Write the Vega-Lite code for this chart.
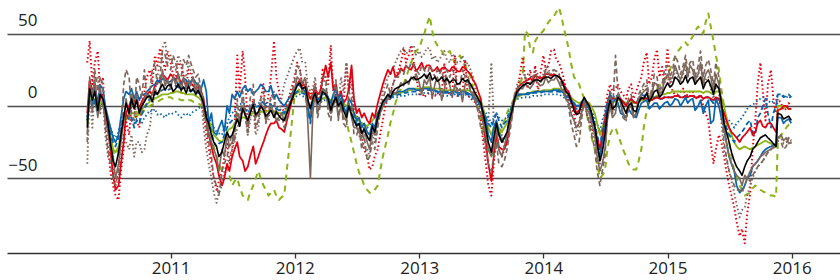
{
  "$schema": "https://vega.github.io/schema/vega-lite/v6.json",
  "autosize": "none",
  "width": 833,
  "height": 253,
  "padding": {"left": 7, "top": 0, "right": 0, "bottom": 27},
  "background": "white",
  "config": {"view": {"stroke": null}, "font": "Open Sans"},
  "data": {"values": [
    {"d":"2010-05-01","k":-15,"r":-5,"b":-8,"n":-20,"g":-10,"rd":30,"bd":-10,"nd":-25,"gd":-12,"nt":-40,"bt":-10},
    {"d":"2010-05-08","k":12,"r":18,"b":10,"n":15,"g":8,"rd":45,"bd":8,"nd":20,"gd":6,"nt":10,"bt":5},
    {"d":"2010-05-16","k":4,"r":10,"b":6,"n":8,"g":3,"rd":15,"bd":0,"nd":-5,"gd":0,"nt":-15,"bt":0},
    {"d":"2010-05-23","k":10,"r":15,"b":12,"n":18,"g":5,"rd":30,"bd":5,"nd":25,"gd":3,"nt":15,"bt":2},
    {"d":"2010-06-01","k":-3,"r":2,"b":2,"n":-8,"g":-2,"rd":38,"bd":-5,"nd":10,"gd":-5,"nt":20,"bt":-6},
    {"d":"2010-06-08","k":8,"r":5,"b":14,"n":12,"g":2,"rd":10,"bd":6,"nd":20,"gd":0,"nt":-5,"bt":0},
    {"d":"2010-06-16","k":5,"r":8,"b":12,"n":2,"g":3,"rd":20,"bd":5,"nd":15,"gd":2,"nt":5,"bt":2},
    {"d":"2010-06-23","k":-2,"r":-5,"b":0,"n":-10,"g":-4,"rd":-10,"bd":-5,"nd":-15,"gd":-6,"nt":-20,"bt":-5},
    {"d":"2010-07-01","k":-12,"r":-15,"b":-8,"n":-18,"g":-10,"rd":-30,"bd":-12,"nd":-30,"gd":-12,"nt":-35,"bt":-10},
    {"d":"2010-07-08","k":-25,"r":-30,"b":-15,"n":-28,"g":-20,"rd":-45,"bd":-20,"nd":-40,"gd":-22,"nt":-30,"bt":-15},
    {"d":"2010-07-16","k":-38,"r":-48,"b":-22,"n":-35,"g":-30,"rd":-55,"bd":-25,"nd":-50,"gd":-32,"nt":-45,"bt":-20},
    {"d":"2010-07-23","k":-42,"r":-58,"b":-25,"n":-50,"g":-32,"rd":-62,"bd":-28,"nd":-55,"gd":-34,"nt":-55,"bt":-22},
    {"d":"2010-08-01","k":-32,"r":-55,"b":-20,"n":-40,"g":-28,"rd":-65,"bd":-22,"nd":-45,"gd":-30,"nt":-50,"bt":-18},
    {"d":"2010-08-08","k":-20,"r":-40,"b":-8,"n":-25,"g":-20,"rd":-45,"bd":-15,"nd":-20,"gd":-20,"nt":-35,"bt":-10},
    {"d":"2010-08-16","k":-8,"r":-25,"b":5,"n":-10,"g":-10,"rd":-30,"bd":-5,"nd":15,"gd":-12,"nt":-20,"bt":-5},
    {"d":"2010-08-23","k":2,"r":-5,"b":10,"n":5,"g":-7,"rd":-10,"bd":-5,"nd":25,"gd":-9,"nt":-25,"bt":-6},
    {"d":"2010-09-01","k":-5,"r":0,"b":8,"n":-8,"g":-6,"rd":-20,"bd":-10,"nd":20,"gd":-8,"nt":-30,"bt":-8},
    {"d":"2010-09-08","k":5,"r":5,"b":12,"n":8,"g":-5,"rd":0,"bd":-8,"nd":-5,"gd":-7,"nt":-20,"bt":-10},
    {"d":"2010-09-16","k":-2,"r":2,"b":5,"n":0,"g":-5,"rd":5,"bd":-15,"nd":-10,"gd":-8,"nt":-35,"bt":-12},
    {"d":"2010-09-23","k":4,"r":6,"b":10,"n":8,"g":-4,"rd":-10,"bd":-10,"nd":20,"gd":-6,"nt":-25,"bt":-9},
    {"d":"2010-10-01","k":-5,"r":-2,"b":4,"n":-5,"g":-6,"rd":-15,"bd":-12,"nd":15,"gd":-8,"nt":-25,"bt":-10},
    {"d":"2010-10-08","k":0,"r":3,"b":8,"n":-2,"g":-3,"rd":0,"bd":-6,"nd":5,"gd":-5,"nt":-32,"bt":-12},
    {"d":"2010-10-16","k":3,"r":6,"b":8,"n":5,"g":0,"rd":10,"bd":-2,"nd":25,"gd":-3,"nt":-30,"bt":-8},
    {"d":"2010-10-23","k":6,"r":8,"b":10,"n":8,"g":1,"rd":20,"bd":2,"nd":5,"gd":-2,"nt":-20,"bt":-6},
    {"d":"2010-11-01","k":7,"r":10,"b":12,"n":5,"g":3,"rd":25,"bd":5,"nd":10,"gd":0,"nt":-15,"bt":-3},
    {"d":"2010-11-08","k":3,"r":8,"b":14,"n":8,"g":4,"rd":15,"bd":6,"nd":25,"gd":1,"nt":0,"bt":-4},
    {"d":"2010-11-16","k":10,"r":14,"b":15,"n":12,"g":5,"rd":35,"bd":8,"nd":30,"gd":2,"nt":10,"bt":-2},
    {"d":"2010-11-23","k":8,"r":16,"b":18,"n":8,"g":6,"rd":28,"bd":9,"nd":15,"gd":3,"nt":20,"bt":-6},
    {"d":"2010-12-01","k":12,"r":18,"b":16,"n":10,"g":7,"rd":40,"bd":10,"nd":20,"gd":4,"nt":30,"bt":-5},
    {"d":"2010-12-08","k":15,"r":22,"b":19,"n":25,"g":8,"rd":32,"bd":11,"nd":38,"gd":5,"nt":40,"bt":-7},
    {"d":"2010-12-16","k":11,"r":20,"b":18,"n":14,"g":8,"rd":25,"bd":12,"nd":35,"gd":5,"nt":45,"bt":-8},
    {"d":"2010-12-23","k":14,"r":18,"b":16,"n":18,"g":8,"rd":38,"bd":11,"nd":28,"gd":6,"nt":30,"bt":-5},
    {"d":"2011-01-01","k":15,"r":22,"b":17,"n":12,"g":9,"rd":30,"bd":12,"nd":25,"gd":6,"nt":35,"bt":-6},
    {"d":"2011-01-08","k":10,"r":20,"b":19,"n":20,"g":9,"rd":22,"bd":13,"nd":35,"gd":5,"nt":28,"bt":-5},
    {"d":"2011-01-16","k":12,"r":18,"b":18,"n":15,"g":10,"rd":20,"bd":14,"nd":30,"gd":5,"nt":25,"bt":-4},
    {"d":"2011-01-23","k":15,"r":22,"b":15,"n":22,"g":10,"rd":30,"bd":13,"nd":22,"gd":5,"nt":35,"bt":-6},
    {"d":"2011-02-01","k":11,"r":15,"b":16,"n":10,"g":9,"rd":28,"bd":12,"nd":20,"gd":4,"nt":30,"bt":-8},
    {"d":"2011-02-08","k":13,"r":18,"b":19,"n":20,"g":9,"rd":20,"bd":13,"nd":32,"gd":4,"nt":22,"bt":-6},
    {"d":"2011-02-16","k":9,"r":14,"b":18,"n":12,"g":8,"rd":15,"bd":12,"nd":28,"gd":3,"nt":20,"bt":-5},
    {"d":"2011-02-23","k":14,"r":17,"b":15,"n":18,"g":8,"rd":25,"bd":11,"nd":35,"gd":4,"nt":30,"bt":-7},
    {"d":"2011-03-01","k":10,"r":16,"b":17,"n":14,"g":8,"rd":22,"bd":10,"nd":30,"gd":4,"nt":25,"bt":-6},
    {"d":"2011-03-08","k":12,"r":14,"b":19,"n":20,"g":8,"rd":18,"bd":11,"nd":25,"gd":3,"nt":20,"bt":-4},
    {"d":"2011-03-16","k":8,"r":12,"b":16,"n":10,"g":7,"rd":12,"bd":10,"nd":20,"gd":3,"nt":15,"bt":-3},
    {"d":"2011-03-23","k":11,"r":14,"b":15,"n":16,"g":6,"rd":15,"bd":9,"nd":22,"gd":2,"nt":12,"bt":-2},
    {"d":"2011-04-01","k":6,"r":10,"b":12,"n":8,"g":4,"rd":10,"bd":8,"nd":12,"gd":0,"nt":5,"bt":0},
    {"d":"2011-04-08","k":2,"r":5,"b":18,"n":-2,"g":0,"rd":-5,"bd":2,"nd":0,"gd":-5,"nt":-15,"bt":-2},
    {"d":"2011-04-16","k":-8,"r":-10,"b":10,"n":-10,"g":-5,"rd":-20,"bd":-5,"nd":-15,"gd":-10,"nt":-30,"bt":-5},
    {"d":"2011-04-23","k":-12,"r":-20,"b":-12,"n":-18,"g":-10,"rd":-30,"bd":-12,"nd":-25,"gd":-15,"nt":-40,"bt":-8},
    {"d":"2011-05-01","k":-20,"r":-28,"b":-5,"n":-25,"g":-15,"rd":-40,"bd":-18,"nd":-35,"gd":-20,"nt":-50,"bt":-12},
    {"d":"2011-05-08","k":-25,"r":-35,"b":-18,"n":-30,"g":-20,"rd":-50,"bd":-25,"nd":-50,"gd":-28,"nt":-60,"bt":-15},
    {"d":"2011-05-16","k":-28,"r":-40,"b":-20,"n":-35,"g":-22,"rd":-58,"bd":-28,"nd":-55,"gd":-35,"nt":-67,"bt":-18},
    {"d":"2011-05-23","k":-35,"r":-48,"b":-15,"n":-45,"g":-24,"rd":-52,"bd":-26,"nd":-62,"gd":-40,"nt":-60,"bt":-19},
    {"d":"2011-06-01","k":-32,"r":-55,"b":-10,"n":-30,"g":-25,"rd":-45,"bd":-25,"nd":-45,"gd":-45,"nt":-55,"bt":-20},
    {"d":"2011-06-08","k":-25,"r":-50,"b":-18,"n":-35,"g":-22,"rd":-35,"bd":-20,"nd":-40,"gd":-44,"nt":-45,"bt":-15},
    {"d":"2011-06-16","k":-18,"r":-40,"b":0,"n":-20,"g":-18,"rd":-25,"bd":-15,"nd":-35,"gd":-42,"nt":-40,"bt":-12},
    {"d":"2011-06-23","k":-22,"r":-45,"b":-5,"n":-28,"g":-16,"rd":-40,"bd":-12,"nd":-25,"gd":-48,"nt":-35,"bt":-8},
    {"d":"2011-07-01","k":-20,"r":-35,"b":8,"n":-25,"g":-15,"rd":-30,"bd":-10,"nd":-20,"gd":-55,"nt":-30,"bt":-5},
    {"d":"2011-07-08","k":-15,"r":-30,"b":5,"n":-15,"g":-12,"rd":-15,"bd":-8,"nd":-25,"gd":-52,"nt":-25,"bt":-3},
    {"d":"2011-07-16","k":-9,"r":-25,"b":10,"n":-5,"g":-10,"rd":35,"bd":-5,"nd":5,"gd":-50,"nt":-15,"bt":0},
    {"d":"2011-07-23","k":-14,"r":-35,"b":6,"n":-10,"g":-9,"rd":10,"bd":-3,"nd":-15,"gd":-56,"nt":-10,"bt":1},
    {"d":"2011-08-01","k":-2,"r":-38,"b":12,"n":0,"g":-8,"rd":38,"bd":0,"nd":10,"gd":-62,"nt":5,"bt":2},
    {"d":"2011-08-08","k":-6,"r":-45,"b":14,"n":-5,"g":-8,"rd":20,"bd":-2,"nd":-5,"gd":-64,"nt":-5,"bt":1},
    {"d":"2011-08-16","k":-10,"r":-42,"b":10,"n":-12,"g":-8,"rd":-15,"bd":-5,"nd":-20,"gd":-65,"nt":-20,"bt":0},
    {"d":"2011-08-23","k":-5,"r":-35,"b":12,"n":-2,"g":-6,"rd":-5,"bd":-2,"nd":5,"gd":-60,"nt":-10,"bt":0},
    {"d":"2011-09-01","k":1,"r":-28,"b":8,"n":2,"g":-5,"rd":5,"bd":2,"nd":15,"gd":-55,"nt":0,"bt":0},
    {"d":"2011-09-08","k":-6,"r":-40,"b":10,"n":-8,"g":-5,"rd":-15,"bd":-1,"nd":-15,"gd":-50,"nt":-20,"bt":1},
    {"d":"2011-09-16","k":-4,"r":-35,"b":12,"n":-5,"g":-5,"rd":-10,"bd":0,"nd":-10,"gd":-45,"nt":-15,"bt":2},
    {"d":"2011-09-23","k":0,"r":-30,"b":15,"n":2,"g":-4,"rd":5,"bd":1,"nd":5,"gd":-50,"nt":0,"bt":2},
    {"d":"2011-10-01","k":-3,"r":-25,"b":13,"n":-2,"g":-4,"rd":15,"bd":2,"nd":10,"gd":-55,"nt":5,"bt":3},
    {"d":"2011-10-08","k":-7,"r":-20,"b":10,"n":-10,"g":-4,"rd":-5,"bd":0,"nd":-12,"gd":-58,"nt":-8,"bt":2},
    {"d":"2011-10-16","k":-5,"r":-15,"b":10,"n":-6,"g":-3,"rd":8,"bd":0,"nd":-5,"gd":-62,"nt":-10,"bt":2},
    {"d":"2011-10-23","k":-3,"r":-12,"b":14,"n":0,"g":-3,"rd":20,"bd":1,"nd":8,"gd":-60,"nt":5,"bt":1},
    {"d":"2011-11-01","k":-8,"r":-12,"b":5,"n":-5,"g":-4,"rd":45,"bd":-2,"nd":5,"gd":-58,"nt":10,"bt":0},
    {"d":"2011-11-08","k":-4,"r":-10,"b":8,"n":-10,"g":-4,"rd":20,"bd":-2,"nd":-8,"gd":-62,"nt":-5,"bt":-1},
    {"d":"2011-11-16","k":-7,"r":-15,"b":4,"n":-8,"g":-5,"rd":10,"bd":-3,"nd":-10,"gd":-65,"nt":-5,"bt":-2},
    {"d":"2011-11-23","k":-9,"r":-16,"b":2,"n":-5,"g":-5,"rd":0,"bd":-4,"nd":-5,"gd":-63,"nt":5,"bt":-3},
    {"d":"2011-12-01","k":-10,"r":-18,"b":0,"n":-10,"g":-6,"rd":-5,"bd":-5,"nd":-15,"gd":-62,"nt":15,"bt":-4},
    {"d":"2012-01-01","k":10,"r":12,"b":12,"n":12,"g":8,"rd":20,"bd":8,"nd":18,"gd":8,"nt":35,"bt":6},
    {"d":"2012-01-08","k":14,"r":15,"b":15,"n":20,"g":9,"rd":30,"bd":10,"nd":28,"gd":10,"nt":38,"bt":7},
    {"d":"2012-01-16","k":16,"r":18,"b":14,"n":18,"g":10,"rd":25,"bd":10,"nd":25,"gd":12,"nt":40,"bt":8},
    {"d":"2012-01-23","k":12,"r":14,"b":12,"n":10,"g":10,"rd":15,"bd":9,"nd":15,"gd":11,"nt":30,"bt":7},
    {"d":"2012-02-01","k":13,"r":15,"b":10,"n":15,"g":9,"rd":18,"bd":8,"nd":20,"gd":10,"nt":30,"bt":6},
    {"d":"2012-02-08","k":5,"r":10,"b":0,"n":-10,"g":7,"rd":8,"bd":-3,"nd":5,"gd":9,"nt":15,"bt":3},
    {"d":"2012-02-16","k":-2,"r":5,"b":-10,"n":-50,"g":5,"rd":10,"bd":-12,"nd":-5,"gd":8,"nt":10,"bt":0},
    {"d":"2012-02-23","k":5,"r":8,"b":2,"n":-5,"g":5,"rd":5,"bd":0,"nd":10,"gd":7,"nt":12,"bt":2},
    {"d":"2012-03-01","k":9,"r":12,"b":8,"n":10,"g":6,"rd":15,"bd":6,"nd":15,"gd":6,"nt":20,"bt":4},
    {"d":"2012-03-08","k":2,"r":8,"b":4,"n":-5,"g":5,"rd":5,"bd":1,"nd":-8,"gd":5,"nt":0,"bt":2},
    {"d":"2012-03-16","k":4,"r":10,"b":6,"n":2,"g":5,"rd":10,"bd":2,"nd":0,"gd":4,"nt":5,"bt":2},
    {"d":"2012-03-23","k":10,"r":18,"b":12,"n":12,"g":5,"rd":25,"bd":8,"nd":20,"gd":5,"nt":20,"bt":4},
    {"d":"2012-04-01","k":8,"r":28,"b":10,"n":10,"g":6,"rd":20,"bd":8,"nd":20,"gd":6,"nt":15,"bt":4},
    {"d":"2012-04-08","k":5,"r":20,"b":6,"n":0,"g":5,"rd":15,"bd":4,"nd":-5,"gd":5,"nt":5,"bt":3},
    {"d":"2012-04-16","k":-3,"r":30,"b":2,"n":-5,"g":4,"rd":42,"bd":0,"nd":-10,"gd":5,"nt":-5,"bt":2},
    {"d":"2012-04-23","k":2,"r":12,"b":8,"n":0,"g":4,"rd":10,"bd":4,"nd":5,"gd":4,"nt":0,"bt":3},
    {"d":"2012-05-01","k":6,"r":15,"b":12,"n":5,"g":4,"rd":15,"bd":8,"nd":18,"gd":4,"nt":10,"bt":4},
    {"d":"2012-05-08","k":0,"r":5,"b":5,"n":-8,"g":3,"rd":5,"bd":2,"nd":-10,"gd":3,"nt":0,"bt":3},
    {"d":"2012-05-16","k":3,"r":10,"b":8,"n":0,"g":3,"rd":10,"bd":5,"nd":5,"gd":2,"nt":20,"bt":2},
    {"d":"2012-05-23","k":-3,"r":2,"b":0,"n":-8,"g":2,"rd":0,"bd":-2,"nd":-12,"gd":-3,"nt":10,"bt":1},
    {"d":"2012-06-01","k":-8,"r":5,"b":-5,"n":-10,"g":0,"rd":30,"bd":-5,"nd":-15,"gd":-10,"nt":30,"bt":0},
    {"d":"2012-06-08","k":0,"r":12,"b":5,"n":2,"g":-1,"rd":10,"bd":2,"nd":10,"gd":-18,"nt":10,"bt":-1},
    {"d":"2012-06-16","k":-6,"r":28,"b":2,"n":-8,"g":-2,"rd":25,"bd":-2,"nd":5,"gd":-25,"nt":15,"bt":-2},
    {"d":"2012-06-23","k":-10,"r":5,"b":-5,"n":-15,"g":-5,"rd":0,"bd":-8,"nd":-20,"gd":-32,"nt":-5,"bt":-5},
    {"d":"2012-07-01","k":-14,"r":-5,"b":-10,"n":-15,"g":-8,"rd":-5,"bd":-12,"nd":-20,"gd":-40,"nt":-15,"bt":-8},
    {"d":"2012-07-08","k":-12,"r":-2,"b":-8,"n":-18,"g":-10,"rd":-15,"bd":-14,"nd":-15,"gd":-46,"nt":-20,"bt":-10},
    {"d":"2012-07-16","k":-19,"r":-8,"b":-15,"n":-22,"g":-12,"rd":-20,"bd":-18,"nd":-30,"gd":-50,"nt":-25,"bt":-12},
    {"d":"2012-07-23","k":-16,"r":-5,"b":-12,"n":-15,"g":-13,"rd":-30,"bd":-15,"nd":-20,"gd":-55,"nt":-28,"bt":-13},
    {"d":"2012-08-01","k":-21,"r":-10,"b":-18,"n":-25,"g":-14,"rd":-35,"bd":-22,"nd":-38,"gd":-58,"nt":-30,"bt":-15},
    {"d":"2012-08-08","k":-24,"r":-12,"b":-20,"n":-30,"g":-12,"rd":-44,"bd":-24,"nd":-35,"gd":-60,"nt":-35,"bt":-13},
    {"d":"2012-08-16","k":-14,"r":-5,"b":-12,"n":-18,"g":-10,"rd":-42,"bd":-15,"nd":-25,"gd":-60,"nt":-20,"bt":-10},
    {"d":"2012-08-23","k":-18,"r":-8,"b":-15,"n":-20,"g":-8,"rd":-35,"bd":-18,"nd":-30,"gd":-58,"nt":-25,"bt":-8},
    {"d":"2012-09-01","k":-8,"r":2,"b":-5,"n":-10,"g":-5,"rd":-30,"bd":-10,"nd":-15,"gd":-55,"nt":-10,"bt":-5},
    {"d":"2012-09-08","k":-2,"r":8,"b":-2,"n":-5,"g":-2,"rd":-20,"bd":-5,"nd":-5,"gd":-45,"nt":0,"bt":-2},
    {"d":"2012-09-16","k":3,"r":15,"b":2,"n":0,"g":2,"rd":-10,"bd":0,"nd":5,"gd":-35,"nt":10,"bt":0},
    {"d":"2012-09-23","k":5,"r":20,"b":5,"n":3,"g":4,"rd":0,"bd":3,"nd":10,"gd":-28,"nt":15,"bt":2},
    {"d":"2012-10-01","k":8,"r":25,"b":8,"n":5,"g":6,"rd":5,"bd":5,"nd":15,"gd":-20,"nt":20,"bt":4},
    {"d":"2012-10-08","k":6,"r":22,"b":6,"n":10,"g":7,"rd":10,"bd":5,"nd":8,"gd":-12,"nt":22,"bt":5},
    {"d":"2012-10-16","k":10,"r":27,"b":8,"n":10,"g":8,"rd":15,"bd":7,"nd":15,"gd":-5,"nt":25,"bt":6},
    {"d":"2012-10-23","k":12,"r":20,"b":9,"n":8,"g":8,"rd":20,"bd":7,"nd":20,"gd":2,"nt":30,"bt":6},
    {"d":"2012-11-01","k":13,"r":22,"b":10,"n":12,"g":9,"rd":25,"bd":8,"nd":20,"gd":8,"nt":35,"bt":6},
    {"d":"2012-11-08","k":14,"r":26,"b":10,"n":16,"g":9,"rd":30,"bd":8,"nd":25,"gd":12,"nt":38,"bt":7},
    {"d":"2012-11-16","k":15,"r":24,"b":10,"n":14,"g":10,"rd":40,"bd":9,"nd":22,"gd":15,"nt":40,"bt":7},
    {"d":"2012-11-23","k":16,"r":28,"b":11,"n":18,"g":10,"rd":30,"bd":9,"nd":28,"gd":20,"nt":36,"bt":7},
    {"d":"2012-12-01","k":17,"r":26,"b":12,"n":15,"g":11,"rd":35,"bd":10,"nd":25,"gd":25,"nt":38,"bt":8},
    {"d":"2012-12-08","k":19,"r":25,"b":12,"n":20,"g":11,"rd":42,"bd":10,"nd":30,"gd":30,"nt":40,"bt":8},
    {"d":"2012-12-16","k":20,"r":29,"b":12,"n":18,"g":12,"rd":30,"bd":10,"nd":28,"gd":35,"nt":42,"bt":8},
    {"d":"2012-12-23","k":18,"r":24,"b":11,"n":22,"g":12,"rd":20,"bd":10,"nd":25,"gd":38,"nt":35,"bt":8},
    {"d":"2013-01-01","k":19,"r":27,"b":11,"n":16,"g":12,"rd":8,"bd":10,"nd":22,"gd":40,"nt":38,"bt":8},
    {"d":"2013-01-08","k":20,"r":30,"b":12,"n":8,"g":12,"rd":10,"bd":11,"nd":28,"gd":45,"nt":34,"bt":8},
    {"d":"2013-01-16","k":22,"r":25,"b":12,"n":18,"g":13,"rd":6,"bd":11,"nd":25,"gd":50,"nt":36,"bt":9},
    {"d":"2013-01-23","k":19,"r":28,"b":12,"n":15,"g":13,"rd":8,"bd":11,"nd":20,"gd":56,"nt":40,"bt":9},
    {"d":"2013-02-01","k":23,"r":28,"b":12,"n":20,"g":13,"rd":9,"bd":11,"nd":28,"gd":62,"nt":40,"bt":9},
    {"d":"2013-02-08","k":18,"r":24,"b":11,"n":5,"g":12,"rd":8,"bd":10,"nd":25,"gd":52,"nt":32,"bt":8},
    {"d":"2013-02-16","k":20,"r":25,"b":11,"n":15,"g":12,"rd":7,"bd":10,"nd":20,"gd":45,"nt":35,"bt":8},
    {"d":"2013-02-23","k":17,"r":27,"b":10,"n":20,"g":12,"rd":9,"bd":10,"nd":25,"gd":42,"nt":30,"bt":8},
    {"d":"2013-03-01","k":18,"r":24,"b":10,"n":15,"g":12,"rd":8,"bd":9,"nd":22,"gd":40,"nt":32,"bt":8},
    {"d":"2013-03-08","k":20,"r":26,"b":10,"n":4,"g":11,"rd":10,"bd":9,"nd":25,"gd":38,"nt":35,"bt":7},
    {"d":"2013-03-16","k":17,"r":27,"b":10,"n":12,"g":11,"rd":30,"bd":9,"nd":15,"gd":35,"nt":38,"bt":7},
    {"d":"2013-03-23","k":19,"r":25,"b":10,"n":20,"g":11,"rd":8,"bd":9,"nd":25,"gd":37,"nt":32,"bt":7},
    {"d":"2013-04-01","k":16,"r":24,"b":9,"n":14,"g":11,"rd":10,"bd":8,"nd":20,"gd":38,"nt":30,"bt":7},
    {"d":"2013-04-08","k":18,"r":27,"b":10,"n":6,"g":11,"rd":9,"bd":9,"nd":25,"gd":33,"nt":36,"bt":8},
    {"d":"2013-04-16","k":18,"r":26,"b":10,"n":15,"g":11,"rd":35,"bd":9,"nd":22,"gd":30,"nt":34,"bt":8},
    {"d":"2013-04-23","k":15,"r":24,"b":9,"n":10,"g":11,"rd":7,"bd":8,"nd":15,"gd":33,"nt":30,"bt":7},
    {"d":"2013-05-01","k":16,"r":24,"b":9,"n":12,"g":11,"rd":8,"bd":8,"nd":15,"gd":35,"nt":30,"bt":7},
    {"d":"2013-05-08","k":19,"r":27,"b":10,"n":3,"g":11,"rd":9,"bd":9,"nd":25,"gd":30,"nt":35,"bt":8},
    {"d":"2013-05-16","k":17,"r":26,"b":10,"n":15,"g":11,"rd":32,"bd":9,"nd":20,"gd":28,"nt":28,"bt":8},
    {"d":"2013-05-23","k":18,"r":24,"b":9,"n":18,"g":11,"rd":8,"bd":8,"nd":22,"gd":25,"nt":30,"bt":7},
    {"d":"2013-06-01","k":15,"r":22,"b":8,"n":10,"g":10,"rd":5,"bd":7,"nd":12,"gd":20,"nt":25,"bt":6},
    {"d":"2013-06-08","k":12,"r":18,"b":7,"n":8,"g":9,"rd":4,"bd":6,"nd":10,"gd":12,"nt":20,"bt":5},
    {"d":"2013-06-16","k":8,"r":15,"b":5,"n":2,"g":8,"rd":2,"bd":5,"nd":5,"gd":5,"nt":10,"bt":4},
    {"d":"2013-06-23","k":5,"r":10,"b":3,"n":-2,"g":6,"rd":0,"bd":3,"nd":-5,"gd":-2,"nt":5,"bt":2},
    {"d":"2013-07-01","k":2,"r":5,"b":0,"n":-5,"g":4,"rd":-10,"bd":0,"nd":-15,"gd":-10,"nt":-5,"bt":0},
    {"d":"2013-07-08","k":-5,"r":-10,"b":-5,"n":-12,"g":-2,"rd":-25,"bd":-4,"nd":-20,"gd":-18,"nt":-15,"bt":-3},
    {"d":"2013-07-16","k":-15,"r":-25,"b":-10,"n":-20,"g":-8,"rd":-40,"bd":-8,"nd":-30,"gd":-25,"nt":-25,"bt":-5},
    {"d":"2013-07-23","k":-25,"r":-40,"b":-20,"n":-30,"g":-15,"rd":-55,"bd":-12,"nd":-40,"gd":-30,"nt":-10,"bt":-8},
    {"d":"2013-08-01","k":-32,"r":-52,"b":-25,"n":-35,"g":-20,"rd":-62,"bd":-15,"nd":-45,"gd":-35,"nt":30,"bt":-12},
    {"d":"2013-08-08","k":-22,"r":-35,"b":-15,"n":-28,"g":-15,"rd":-40,"bd":-10,"nd":-35,"gd":-32,"nt":-10,"bt":-8},
    {"d":"2013-08-16","k":-12,"r":-20,"b":-10,"n":-15,"g":-12,"rd":-20,"bd":-5,"nd":-25,"gd":-28,"nt":-30,"bt":-5},
    {"d":"2013-08-23","k":-20,"r":-28,"b":-18,"n":-30,"g":-15,"rd":-30,"bd":-10,"nd":-40,"gd":-22,"nt":-25,"bt":-8},
    {"d":"2013-09-01","k":-25,"r":-30,"b":-25,"n":-35,"g":-18,"rd":-35,"bd":-15,"nd":-42,"gd":-15,"nt":-20,"bt":-10},
    {"d":"2013-09-08","k":-22,"r":-30,"b":-22,"n":-28,"g":-15,"rd":-30,"bd":-12,"nd":-38,"gd":-10,"nt":-28,"bt":-9},
    {"d":"2013-09-16","k":-18,"r":-25,"b":-20,"n":-20,"g":-12,"rd":-25,"bd":-10,"nd":-30,"gd":-5,"nt":-25,"bt":-8},
    {"d":"2013-09-23","k":-10,"r":-15,"b":-10,"n":-12,"g":-6,"rd":-10,"bd":-5,"nd":-20,"gd":-1,"nt":-15,"bt":-4},
    {"d":"2013-10-01","k":-3,"r":-5,"b":-2,"n":-5,"g":0,"rd":0,"bd":0,"nd":-8,"gd":2,"nt":-5,"bt":0},
    {"d":"2013-10-08","k":5,"r":6,"b":4,"n":5,"g":3,"rd":5,"bd":4,"nd":8,"gd":6,"nt":5,"bt":3},
    {"d":"2013-10-16","k":10,"r":12,"b":8,"n":8,"g":6,"rd":10,"bd":7,"nd":12,"gd":10,"nt":15,"bt":5},
    {"d":"2013-10-23","k":12,"r":14,"b":8,"n":12,"g":7,"rd":20,"bd":8,"nd":15,"gd":15,"nt":18,"bt":5},
    {"d":"2013-11-01","k":14,"r":16,"b":8,"n":12,"g":8,"rd":34,"bd":8,"nd":15,"gd":20,"nt":20,"bt":6},
    {"d":"2013-11-08","k":15,"r":17,"b":8,"n":15,"g":8,"rd":20,"bd":8,"nd":20,"gd":52,"nt":22,"bt":6},
    {"d":"2013-11-16","k":16,"r":18,"b":9,"n":14,"g":9,"rd":12,"bd":8,"nd":18,"gd":50,"nt":22,"bt":6},
    {"d":"2013-11-23","k":15,"r":19,"b":9,"n":12,"g":9,"rd":25,"bd":8,"nd":15,"gd":40,"nt":20,"bt":6},
    {"d":"2013-12-01","k":17,"r":18,"b":9,"n":15,"g":10,"rd":15,"bd":9,"nd":20,"gd":37,"nt":20,"bt":7},
    {"d":"2013-12-08","k":18,"r":21,"b":10,"n":18,"g":10,"rd":28,"bd":9,"nd":22,"gd":45,"nt":24,"bt":7},
    {"d":"2013-12-16","k":18,"r":20,"b":10,"n":16,"g":10,"rd":10,"bd":9,"nd":18,"gd":48,"nt":22,"bt":7},
    {"d":"2013-12-23","k":17,"r":19,"b":10,"n":14,"g":10,"rd":22,"bd":9,"nd":16,"gd":50,"nt":20,"bt":7},
    {"d":"2014-01-01","k":19,"r":20,"b":10,"n":15,"g":11,"rd":35,"bd":10,"nd":20,"gd":52,"nt":22,"bt":8},
    {"d":"2014-01-08","k":20,"r":22,"b":10,"n":20,"g":11,"rd":25,"bd":10,"nd":25,"gd":55,"nt":28,"bt":8},
    {"d":"2014-01-16","k":20,"r":22,"b":10,"n":16,"g":11,"rd":28,"bd":10,"nd":22,"gd":58,"nt":25,"bt":8},
    {"d":"2014-01-23","k":19,"r":21,"b":10,"n":18,"g":11,"rd":38,"bd":10,"nd":24,"gd":60,"nt":22,"bt":8},
    {"d":"2014-02-01","k":21,"r":22,"b":11,"n":18,"g":12,"rd":39,"bd":10,"nd":25,"gd":62,"nt":25,"bt":8},
    {"d":"2014-02-08","k":21,"r":21,"b":11,"n":20,"g":12,"rd":32,"bd":10,"nd":24,"gd":65,"nt":24,"bt":8},
    {"d":"2014-02-16","k":20,"r":20,"b":11,"n":16,"g":12,"rd":30,"bd":10,"nd":22,"gd":68,"nt":22,"bt":8},
    {"d":"2014-02-23","k":18,"r":18,"b":10,"n":12,"g":11,"rd":25,"bd":9,"nd":15,"gd":62,"nt":18,"bt":7},
    {"d":"2014-03-01","k":14,"r":16,"b":9,"n":10,"g":10,"rd":20,"bd":8,"nd":12,"gd":55,"nt":15,"bt":6},
    {"d":"2014-03-08","k":10,"r":12,"b":7,"n":5,"g":9,"rd":12,"bd":6,"nd":5,"gd":48,"nt":8,"bt":5},
    {"d":"2014-03-16","k":8,"r":10,"b":6,"n":2,"g":8,"rd":5,"bd":5,"nd":0,"gd":40,"nt":5,"bt":4},
    {"d":"2014-03-23","k":4,"r":5,"b":4,"n":-5,"g":6,"rd":0,"bd":3,"nd":-12,"gd":30,"nt":-5,"bt":3},
    {"d":"2014-04-01","k":-3,"r":0,"b":2,"n":-10,"g":4,"rd":-5,"bd":0,"nd":-20,"gd":20,"nt":-10,"bt":2},
    {"d":"2014-04-08","k":-6,"r":-5,"b":0,"n":-15,"g":3,"rd":-15,"bd":-2,"nd":-28,"gd":18,"nt":-20,"bt":1},
    {"d":"2014-04-16","k":-5,"r":-3,"b":0,"n":-12,"g":2,"rd":-12,"bd":-2,"nd":-25,"gd":15,"nt":-15,"bt":0},
    {"d":"2014-04-23","k":2,"r":0,"b":2,"n":-5,"g":3,"rd":-3,"bd":2,"nd":-10,"gd":10,"nt":-5,"bt":2},
    {"d":"2014-05-01","k":6,"r":5,"b":4,"n":2,"g":4,"rd":5,"bd":4,"nd":5,"gd":5,"nt":5,"bt":3},
    {"d":"2014-05-08","k":3,"r":2,"b":0,"n":-2,"g":3,"rd":-5,"bd":1,"nd":-5,"gd":-5,"nt":-3,"bt":2},
    {"d":"2014-05-16","k":0,"r":-2,"b":-2,"n":-5,"g":2,"rd":-10,"bd":-2,"nd":-12,"gd":-15,"nt":-10,"bt":0},
    {"d":"2014-05-23","k":-5,"r":-8,"b":-8,"n":-12,"g":-1,"rd":-15,"bd":-6,"nd":-20,"gd":-22,"nt":-18,"bt":-4},
    {"d":"2014-06-01","k":-14,"r":-15,"b":-15,"n":-20,"g":-5,"rd":-20,"bd":-12,"nd":-30,"gd":-30,"nt":-25,"bt":-8},
    {"d":"2014-06-08","k":-25,"r":-22,"b":-28,"n":-35,"g":-12,"rd":-25,"bd":-20,"nd":-45,"gd":-40,"nt":-32,"bt":-12},
    {"d":"2014-06-16","k":-38,"r":-30,"b":-35,"n":-45,"g":-20,"rd":-30,"bd":-28,"nd":-55,"gd":-50,"nt":-40,"bt":-18},
    {"d":"2014-06-23","k":-32,"r":-22,"b":-25,"n":-40,"g":-15,"rd":-20,"bd":-18,"nd":-45,"gd":-48,"nt":-30,"bt":-10},
    {"d":"2014-07-01","k":-20,"r":-10,"b":-15,"n":-30,"g":-10,"rd":-5,"bd":-10,"nd":-35,"gd":-45,"nt":-20,"bt":-5},
    {"d":"2014-07-08","k":-5,"r":0,"b":0,"n":-10,"g":-2,"rd":8,"bd":2,"nd":-8,"gd":-30,"nt":-5,"bt":2},
    {"d":"2014-07-16","k":4,"r":8,"b":8,"n":0,"g":4,"rd":15,"bd":10,"nd":10,"gd":-20,"nt":5,"bt":6},
    {"d":"2014-07-23","k":-2,"r":5,"b":2,"n":-8,"g":3,"rd":10,"bd":5,"nd":-5,"gd":-16,"nt":-5,"bt":5},
    {"d":"2014-08-01","k":0,"r":5,"b":5,"n":-5,"g":3,"rd":12,"bd":8,"nd":35,"gd":-15,"nt":0,"bt":5},
    {"d":"2014-08-08","k":6,"r":6,"b":2,"n":8,"g":4,"rd":15,"bd":6,"nd":10,"gd":-20,"nt":8,"bt":5},
    {"d":"2014-08-16","k":4,"r":5,"b":-5,"n":2,"g":4,"rd":10,"bd":5,"nd":5,"gd":-25,"nt":5,"bt":4},
    {"d":"2014-08-23","k":0,"r":3,"b":-6,"n":-5,"g":3,"rd":8,"bd":3,"nd":-8,"gd":-30,"nt":-5,"bt":3},
    {"d":"2014-09-01","k":-5,"r":0,"b":-8,"n":-8,"g":2,"rd":5,"bd":0,"nd":-10,"gd":-35,"nt":-10,"bt":2},
    {"d":"2014-09-08","k":0,"r":3,"b":-2,"n":-2,"g":3,"rd":12,"bd":3,"nd":5,"gd":-40,"nt":0,"bt":3},
    {"d":"2014-09-16","k":2,"r":5,"b":-5,"n":0,"g":3,"rd":15,"bd":5,"nd":8,"gd":-42,"nt":5,"bt":4},
    {"d":"2014-09-23","k":-3,"r":3,"b":-7,"n":-8,"g":2,"rd":5,"bd":3,"nd":-8,"gd":-44,"nt":-5,"bt":3},
    {"d":"2014-10-01","k":-4,"r":2,"b":-8,"n":-5,"g":2,"rd":10,"bd":2,"nd":-5,"gd":-44,"nt":-5,"bt":2},
    {"d":"2014-10-08","k":2,"r":4,"b":-3,"n":5,"g":3,"rd":15,"bd":5,"nd":8,"gd":-38,"nt":5,"bt":4},
    {"d":"2014-10-16","k":6,"r":5,"b":2,"n":8,"g":4,"rd":20,"bd":8,"nd":12,"gd":-30,"nt":10,"bt":5},
    {"d":"2014-10-23","k":5,"r":5,"b":3,"n":10,"g":4,"rd":30,"bd":7,"nd":15,"gd":-15,"nt":12,"bt":5},
    {"d":"2014-11-01","k":9,"r":5,"b":4,"n":12,"g":5,"rd":37,"bd":8,"nd":18,"gd":-3,"nt":15,"bt":6},
    {"d":"2014-11-08","k":3,"r":4,"b":-2,"n":2,"g":5,"rd":15,"bd":5,"nd":5,"gd":3,"nt":5,"bt":5},
    {"d":"2014-11-16","k":6,"r":4,"b":0,"n":8,"g":5,"rd":20,"bd":6,"nd":12,"gd":8,"nt":10,"bt":5},
    {"d":"2014-11-23","k":10,"r":5,"b":2,"n":16,"g":6,"rd":32,"bd":6,"nd":22,"gd":10,"nt":15,"bt":5},
    {"d":"2014-12-01","k":11,"r":6,"b":2,"n":15,"g":7,"rd":39,"bd":6,"nd":20,"gd":12,"nt":15,"bt":6},
    {"d":"2014-12-08","k":6,"r":5,"b":-2,"n":8,"g":7,"rd":20,"bd":5,"nd":10,"gd":14,"nt":8,"bt":5},
    {"d":"2014-12-16","k":8,"r":5,"b":0,"n":10,"g":8,"rd":27,"bd":5,"nd":15,"gd":16,"nt":12,"bt":5},
    {"d":"2014-12-23","k":12,"r":6,"b":2,"n":18,"g":8,"rd":15,"bd":6,"nd":25,"gd":18,"nt":18,"bt":6},
    {"d":"2015-01-01","k":16,"r":6,"b":3,"n":22,"g":9,"rd":40,"bd":6,"nd":28,"gd":20,"nt":20,"bt":6},
    {"d":"2015-01-08","k":13,"r":6,"b":0,"n":18,"g":9,"rd":18,"bd":6,"nd":20,"gd":25,"nt":15,"bt":6},
    {"d":"2015-01-16","k":15,"r":6,"b":2,"n":20,"g":10,"rd":10,"bd":6,"nd":25,"gd":30,"nt":18,"bt":6},
    {"d":"2015-01-23","k":20,"r":7,"b":5,"n":28,"g":10,"rd":8,"bd":7,"nd":35,"gd":34,"nt":25,"bt":7},
    {"d":"2015-02-01","k":18,"r":7,"b":4,"n":22,"g":10,"rd":8,"bd":7,"nd":30,"gd":38,"nt":20,"bt":7},
    {"d":"2015-02-08","k":15,"r":6,"b":0,"n":18,"g":10,"rd":10,"bd":6,"nd":22,"gd":40,"nt":16,"bt":6},
    {"d":"2015-02-16","k":17,"r":6,"b":3,"n":24,"g":10,"rd":12,"bd":6,"nd":28,"gd":43,"nt":22,"bt":6},
    {"d":"2015-02-23","k":21,"r":7,"b":6,"n":30,"g":10,"rd":6,"bd":7,"nd":35,"gd":44,"nt":26,"bt":7},
    {"d":"2015-03-01","k":16,"r":6,"b":2,"n":20,"g":10,"rd":8,"bd":6,"nd":25,"gd":42,"nt":20,"bt":6},
    {"d":"2015-03-08","k":19,"r":7,"b":4,"n":28,"g":10,"rd":10,"bd":7,"nd":30,"gd":45,"nt":24,"bt":7},
    {"d":"2015-03-16","k":20,"r":7,"b":5,"n":25,"g":10,"rd":10,"bd":7,"nd":32,"gd":48,"nt":25,"bt":7},
    {"d":"2015-03-23","k":15,"r":6,"b":-3,"n":18,"g":10,"rd":5,"bd":6,"nd":20,"gd":52,"nt":16,"bt":6},
    {"d":"2015-04-01","k":18,"r":6,"b":0,"n":22,"g":10,"rd":6,"bd":6,"nd":28,"gd":55,"nt":22,"bt":6},
    {"d":"2015-04-08","k":20,"r":7,"b":4,"n":30,"g":10,"rd":8,"bd":7,"nd":38,"gd":52,"nt":28,"bt":7},
    {"d":"2015-04-16","k":12,"r":5,"b":-5,"n":15,"g":9,"rd":0,"bd":5,"nd":20,"gd":50,"nt":15,"bt":5},
    {"d":"2015-04-23","k":16,"r":6,"b":0,"n":22,"g":10,"rd":-5,"bd":6,"nd":28,"gd":58,"nt":18,"bt":6},
    {"d":"2015-05-01","k":18,"r":6,"b":4,"n":25,"g":10,"rd":-10,"bd":6,"nd":32,"gd":64,"nt":20,"bt":6},
    {"d":"2015-05-08","k":14,"r":5,"b":-12,"n":20,"g":9,"rd":-25,"bd":4,"nd":25,"gd":55,"nt":12,"bt":4},
    {"d":"2015-05-16","k":8,"r":4,"b":-10,"n":10,"g":8,"rd":-40,"bd":2,"nd":15,"gd":45,"nt":5,"bt":2},
    {"d":"2015-05-23","k":15,"r":6,"b":5,"n":22,"g":10,"rd":-30,"bd":5,"nd":30,"gd":35,"nt":15,"bt":5},
    {"d":"2015-06-01","k":12,"r":5,"b":0,"n":15,"g":10,"rd":-20,"bd":5,"nd":20,"gd":25,"nt":10,"bt":4},
    {"d":"2015-06-08","k":3,"r":0,"b":-8,"n":0,"g":6,"rd":-25,"bd":0,"nd":0,"gd":12,"nt":-10,"bt":0},
    {"d":"2015-06-16","k":-12,"r":-5,"b":-15,"n":-15,"g":0,"rd":-35,"bd":-10,"nd":-25,"gd":0,"nt":-30,"bt":-5},
    {"d":"2015-06-23","k":-18,"r":-10,"b":-25,"n":-25,"g":-8,"rd":-45,"bd":-15,"nd":-35,"gd":-12,"nt":-38,"bt":-8},
    {"d":"2015-07-01","k":-25,"r":-15,"b":-35,"n":-35,"g":-15,"rd":-55,"bd":-20,"nd":-45,"gd":-25,"nt":-45,"bt":-10},
    {"d":"2015-07-08","k":-32,"r":-18,"b":-40,"n":-40,"g":-20,"rd":-62,"bd":-22,"nd":-50,"gd":-35,"nt":-52,"bt":-12},
    {"d":"2015-07-16","k":-38,"r":-20,"b":-45,"n":-45,"g":-25,"rd":-70,"bd":-25,"nd":-55,"gd":-45,"nt":-60,"bt":-15},
    {"d":"2015-07-23","k":-42,"r":-22,"b":-55,"n":-48,"g":-28,"rd":-80,"bd":-22,"nd":-58,"gd":-50,"nt":-68,"bt":-12},
    {"d":"2015-08-01","k":-45,"r":-25,"b":-60,"n":-50,"g":-30,"rd":-90,"bd":-20,"nd":-58,"gd":-55,"nt":-77,"bt":-10},
    {"d":"2015-08-08","k":-48,"r":-22,"b":-58,"n":-55,"g":-29,"rd":-85,"bd":-18,"nd":-60,"gd":-58,"nt":-72,"bt":-8},
    {"d":"2015-08-16","k":-42,"r":-20,"b":-55,"n":-48,"g":-28,"rd":-95,"bd":-15,"nd":-55,"gd":-62,"nt":-70,"bt":-5},
    {"d":"2015-08-23","k":-38,"r":-18,"b":-50,"n":-50,"g":-29,"rd":-75,"bd":-12,"nd":-50,"gd":-61,"nt":-62,"bt":-2},
    {"d":"2015-09-01","k":-35,"r":-15,"b":-48,"n":-45,"g":-30,"rd":-60,"bd":-10,"nd":-52,"gd":-60,"nt":-55,"bt":0},
    {"d":"2015-09-08","k":-30,"r":-20,"b":-42,"n":-42,"g":-29,"rd":-30,"bd":-18,"nd":-48,"gd":-57,"nt":-50,"bt":1},
    {"d":"2015-09-16","k":-28,"r":-18,"b":-40,"n":-40,"g":-28,"rd":-10,"bd":-20,"nd":-45,"gd":-55,"nt":-45,"bt":2},
    {"d":"2015-09-23","k":-25,"r":-12,"b":-38,"n":-38,"g":-27,"rd":15,"bd":-8,"nd":-42,"gd":-56,"nt":-42,"bt":4},
    {"d":"2015-10-01","k":-22,"r":-10,"b":-35,"n":-35,"g":-26,"rd":30,"bd":-5,"nd":-40,"gd":-58,"nt":-40,"bt":5},
    {"d":"2015-10-08","k":-21,"r":-14,"b":-32,"n":-34,"g":-25,"rd":10,"bd":0,"nd":-38,"gd":-59,"nt":-38,"bt":6},
    {"d":"2015-10-16","k":-20,"r":-15,"b":-30,"n":-32,"g":-24,"rd":-10,"bd":5,"nd":-35,"gd":-60,"nt":-35,"bt":6},
    {"d":"2015-10-23","k":-22,"r":-12,"b":-29,"n":-31,"g":-25,"rd":15,"bd":-5,"nd":-32,"gd":-61,"nt":-32,"bt":4},
    {"d":"2015-11-01","k":-24,"r":-12,"b":-28,"n":-30,"g":-26,"rd":25,"bd":-15,"nd":-30,"gd":-62,"nt":-30,"bt":2},
    {"d":"2015-11-08","k":-26,"r":-15,"b":-27,"n":-29,"g":-27,"rd":5,"bd":-5,"nd":-28,"gd":-62,"nt":-29,"bt":3},
    {"d":"2015-11-16","k":-28,"r":-18,"b":-26,"n":-28,"g":-28,"rd":-5,"bd":0,"nd":-26,"gd":-63,"nt":-28,"bt":4},
    {"d":"2015-11-21","k":-5,"r":-3,"b":-8,"n":-22,"g":0,"rd":5,"bd":8,"nd":-24,"gd":-25,"nt":-22,"bt":8},
    {"d":"2015-12-01","k":-6,"r":-2,"b":-8,"n":-20,"g":0,"rd":2,"bd":8,"nd":-25,"gd":-20,"nt":-22,"bt":8},
    {"d":"2015-12-08","k":-9,"r":0,"b":-12,"n":-24,"g":-1,"rd":-3,"bd":6,"nd":-30,"gd":-18,"nt":-26,"bt":7},
    {"d":"2015-12-16","k":-8,"r":0,"b":-10,"n":-22,"g":-1,"rd":-2,"bd":7,"nd":-28,"gd":-15,"nt":-25,"bt":6},
    {"d":"2015-12-23","k":-7,"r":-2,"b":-9,"n":-26,"g":-2,"rd":2,"bd":8,"nd":-22,"gd":-13,"nt":-22,"bt":7},
    {"d":"2015-12-31","k":-10,"r":-2,"b":-12,"n":-25,"g":-2,"rd":0,"bd":6,"nd":-26,"gd":-12,"nt":-24,"bt":5}
  ]},
  "transform": [
    {"fold": ["gd","rd","nt","bt","g","bd","r","b","nd","n","k"], "as": ["series","value"]}
  ],
  "mark": {"type": "line", "strokeJoin": "round"},
  "encoding": {
    "x": {
      "field": "d", "type": "temporal",
      "scale": {"type": "utc", "domain": [{"year": 2009, "month": 9, "date": 7, "utc": true}, {"year": 2016, "month": 5, "date": 22, "utc": true}]},
      "axis": {
        "title": null, "grid": false,
        "values": [{"year": 2011, "month": 1, "date": 1, "utc": true}, {"year": 2012, "month": 1, "date": 1, "utc": true}, {"year": 2013, "month": 1, "date": 1, "utc": true}, {"year": 2014, "month": 1, "date": 1, "utc": true}, {"year": 2015, "month": 1, "date": 1, "utc": true}, {"year": 2016, "month": 1, "date": 1, "utc": true}],
        "format": "%Y", "formatType": "utc",
        "domainColor": "#333333", "domainWidth": 1.3,
        "tickColor": "#333333", "tickWidth": 1.3, "tickSize": 5,
        "labelFont": "Open Sans", "labelFontSize": 17, "labelColor": "#222222", "labelPadding": 2
      }
    },
    "y": {
      "field": "value", "type": "quantitative",
      "scale": {"domain": [-101.7, 73.3], "nice": false, "zero": false},
      "axis": {
        "title": null, "values": [-50, 0, 50],
        "grid": true, "gridColor": "#4d4d4d", "gridWidth": 1.3,
        "domain": false, "ticks": false, "tickSize": 0,
        "labelAlign": "right", "labelPadding": -30, "labelBaseline": "alphabetic", "labelOffset": -8,
        "labelFont": "Open Sans", "labelFontSize": 17, "labelColor": "#222222"
      }
    },
    "color": {
      "field": "series", "type": "nominal", "legend": null,
      "scale": {
        "domain": ["gd","rd","nt","bt","g","bd","r","b","nd","n","k"],
        "range": ["#8cb414","#e3000f","#7d675c","#0a64ac","#8cb414","#0a64ac","#e3000f","#0a64ac","#7d675c","#7d675c","#000000"]
      }
    },
    "strokeDash": {
      "field": "series", "type": "nominal", "legend": null,
      "scale": {
        "domain": ["gd","rd","nt","bt","g","bd","r","b","nd","n","k"],
        "range": [[6,5],[1.5,2.5],[1.5,2.5],[1.5,2.5],[1,0],[5,3],[1,0],[1,0],[5,3],[1,0],[1,0]]
      }
    },
    "strokeWidth": {
      "field": "series", "type": "ordinal", "legend": null,
      "scale": {
        "domain": ["gd","rd","nt","bt","g","bd","r","b","nd","n","k"],
        "range": [2, 1.6, 1.6, 1.6, 1.6, 2.2, 1.8, 2, 3.2, 2.2, 2.5]
      }
    }
  }
}
